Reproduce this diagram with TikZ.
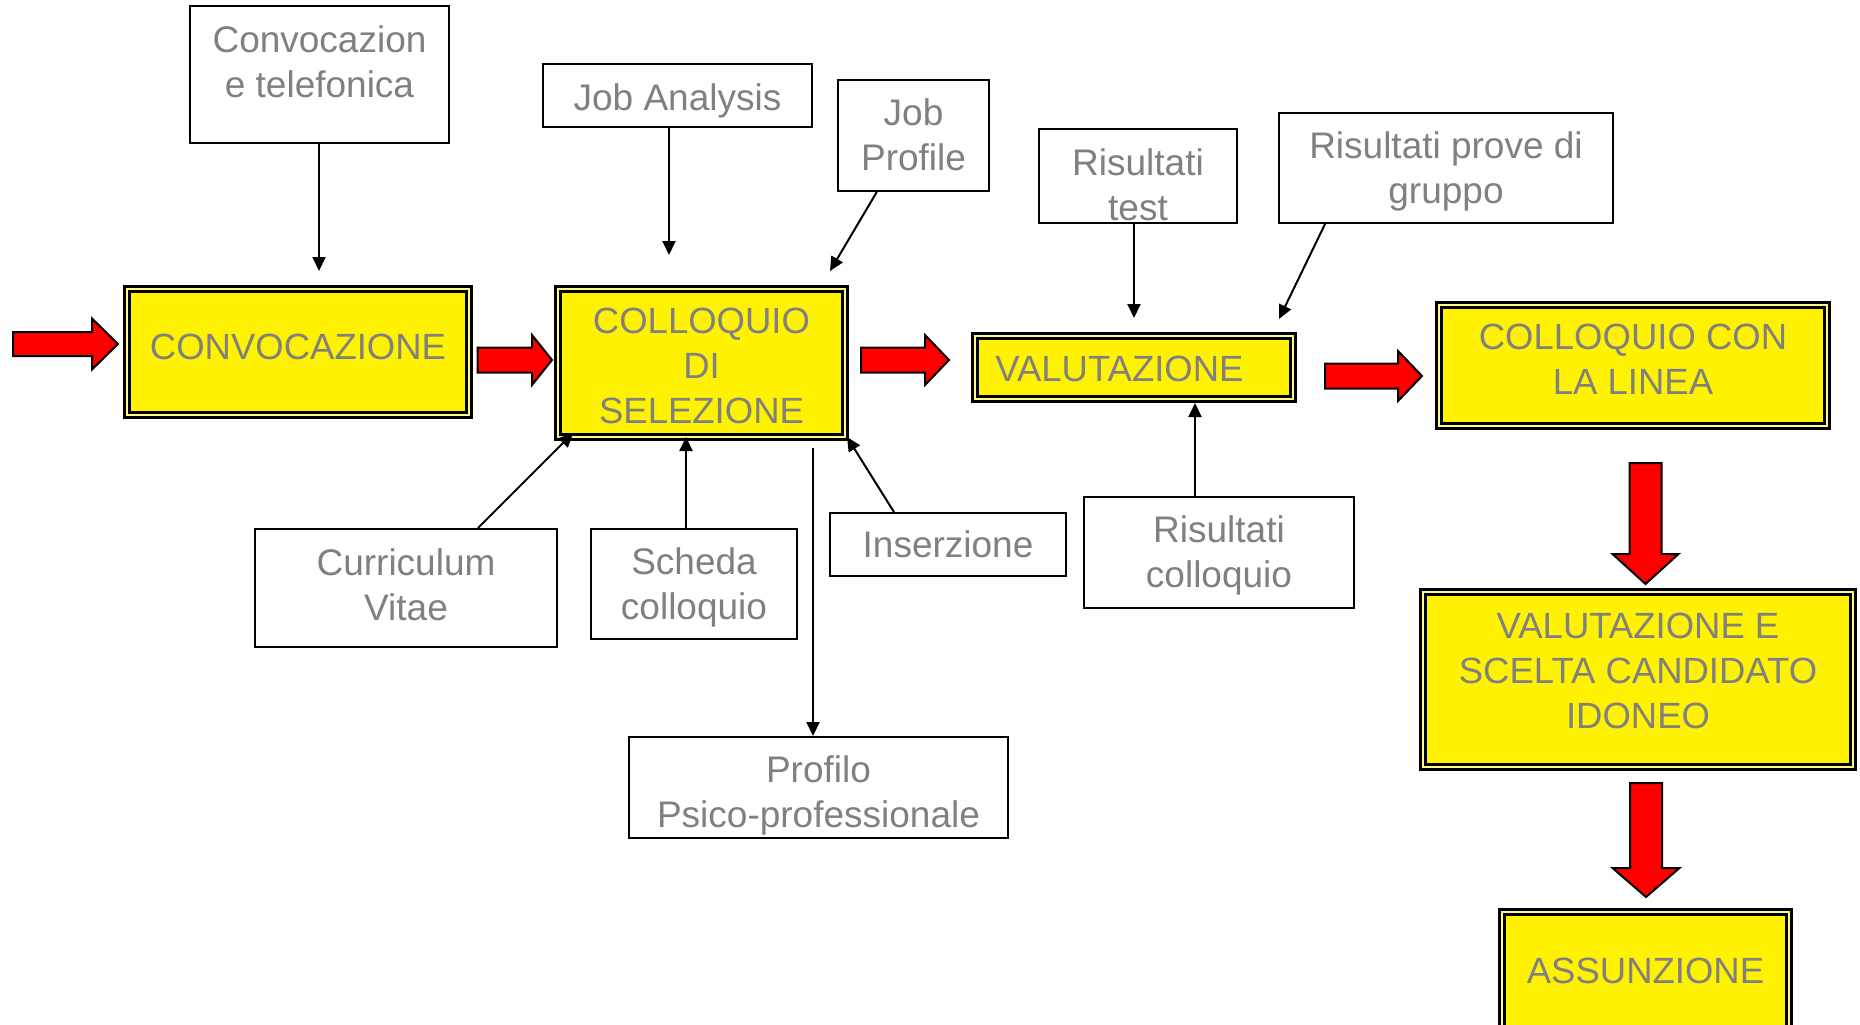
\documentclass[tikz,border=0pt]{standalone}
\usepackage{fontspec}
\setmainfont{Liberation Sans}
\usetikzlibrary{arrows.meta,calc}
\definecolor{txtgray}{RGB}{128,128,128}
% fixed line box so every text line sits the same way
\newcommand\linestrut{\rule[-9.7pt]{0pt}{45pt}}
\tikzset{
  lbl/.style={font=\fontsize{37}{45}\selectfont, text=txtgray, align=center,
    inner sep=0pt, execute at end node=\linestrut},
  ylbl/.style={lbl, font=\fontsize{36.5}{45}\selectfont},
  wbox/.style={draw, line width=2pt, fill=white, inner sep=0pt},
  ybox/.style={draw, fill=yellow, line width=3pt, double=white!55!yellow,
    double distance=2.4pt, inner sep=0pt},
  conn/.style={line width=2pt, -{Triangle[length=14pt,width=13pt]}},
  pics/redarrow/.style n args={4}{code={
    \draw[line width=2pt, fill=red, line join=miter]
      (0,-#3) -- ({#1-#2},-#3) -- ({#1-#2},-#4) -- (#1,0) --
      ({#1-#2},#4) -- ({#1-#2},#3) -- (0,#3) -- cycle;}}
}
\begin{document}
\begin{tikzpicture}[x=1pt,y=-1pt]
\useasboundingbox (0,0) rectangle (1860,1025);

% main process boxes
\node[ybox, minimum width=341.6pt, minimum height=125.6pt] (conv) at (298,352) {};
\node[ylbl, yshift=5.8pt] (conv-t) at (conv) {\linestrut CONVOCAZIONE};
\node[ybox, minimum width=286.6pt, minimum height=147.6pt] (coll) at (701.5,363) {};
\node[ylbl, yshift=-2.5pt] (coll-t) at (coll) {\linestrut COLLOQUIO\\DI\\SELEZIONE};
\node[ybox, minimum width=317.6pt, minimum height=62.6pt] (valut) at (1134,367.5) {};
\node[ylbl, xshift=-14.5pt, yshift=-1pt] (valut-t) at (valut) {\linestrut VALUTAZIONE};
\node[ybox, minimum width=387.6pt, minimum height=120.6pt] (linea) at (1633,365.5) {};
\node[ylbl, yshift=6pt] (linea-t) at (linea) {\linestrut COLLOQUIO CON\\LA LINEA};
\node[ybox, minimum width=429.6pt, minimum height=174.6pt] (scelta) at (1638,679.5) {};
\node[ylbl, yshift=9pt] (scelta-t) at (scelta) {\linestrut VALUTAZIONE E\\SCELTA CANDIDATO\\IDONEO};
\node[ybox, ylbl, minimum width=286.6pt, minimum height=117.6pt] (assunz) at (1645.5,971) {\linestrut ASSUNZIONE};

% input / output boxes
\node[wbox, minimum width=259pt, minimum height=137pt] (convtel) at (319.5,74.5) {};
\node[lbl, yshift=12pt] (convtel-t) at (convtel) {\linestrut Convocazion\\e telefonica};
\node[wbox, minimum width=269pt, minimum height=63pt] (jobA) at (677.5,95.5) {};
\node[lbl, yshift=-2pt] (jobA-t) at (jobA) {\linestrut Job Analysis};
\node[wbox, lbl, minimum width=151pt, minimum height=111pt] (jobP) at (913.5,135.5) {\linestrut Job\\Profile};
\node[wbox, minimum width=198pt, minimum height=94pt] (rtest) at (1138,176) {};
\node[lbl, yshift=-9pt] (rtest-t) at (rtest) {\linestrut Risultati\\test};
\node[wbox, lbl, minimum width=334pt, minimum height=110pt] (rprove) at (1446,168) {\linestrut Risultati prove di\\gruppo};
\node[wbox, minimum width=302pt, minimum height=118pt] (cv) at (406,588) {};
\node[lbl, yshift=3.3pt] (cv-t) at (cv) {\linestrut Curriculum\\Vitae};
\node[wbox, lbl, minimum width=206pt, minimum height=110pt] (scheda) at (694,584) {\linestrut Scheda\\colloquio};
\node[wbox, lbl, minimum width=236pt, minimum height=63pt] (inserz) at (948,544.5) {\linestrut Inserzione};
\node[wbox, lbl, minimum width=270pt, minimum height=111pt] (rcoll) at (1219,552.5) {\linestrut Risultati\\colloquio};
\node[wbox, minimum width=379pt, minimum height=101pt] (profilo) at (818.5,787.5) {};
\node[lbl, yshift=-4.2pt] (profilo-t) at (profilo) {\linestrut Profilo\\Psico-professionale};

% free ends of the thin connectors
\coordinate (a1) at (319,271);
\coordinate (a2) at (669,255);
\coordinate (a3) at (830,271);
\coordinate (a4) at (1134,318);
\coordinate (a5) at (1279,319);
\coordinate (a6) at (1195,403);
\coordinate (a7) at (573,433);
\coordinate (a8) at (686,437);
\coordinate (a9) at (847,437);
\coordinate (a10) at (813,448);

\draw[conn] (convtel.south -| a1) -- (a1);
\draw[conn] (jobA.south -| a2) -- (a2);
\draw[conn] ($(jobP.south west)!0.26!(jobP.south east)$) -- (a3);
\draw[conn] (rtest.south -| a4) -- (a4);
\draw[conn] ($(rprove.south west)!0.14!(rprove.south east)$) -- (a5);
\draw[conn] (rcoll.north -| a6) -- (a6);
\draw[conn] ($(cv.north west)!0.737!(cv.north east)$) -- (a7);
\draw[conn] (scheda.north -| a8) -- (a8);
\draw[conn] ($(inserz.north west)!0.273!(inserz.north east)$) -- (a9);
\draw[conn] (a10) -- (profilo.north -| a10);

% block arrows of the main flow
\coordinate (r1) at (13,344);
\coordinate (r2) at (477.5,360);
\coordinate (r3) at (861,360);
\coordinate (r4) at (1325,376);
\coordinate (r5) at (1645.5,463);
\coordinate (r6) at (1646,783);
\pic at (r1) {redarrow={105}{26}{12}{25.5}};
\pic at (r2) {redarrow={74.5}{20}{12.5}{25}};
\pic at (r3) {redarrow={88}{24}{12.5}{25}};
\pic at (r4) {redarrow={97}{24}{12.5}{25}};
\pic[rotate=-90] at (r5) {redarrow={121}{30}{16}{33}};
\pic[rotate=-90] at (r6) {redarrow={114}{29}{16}{33.5}};
\end{tikzpicture}
\end{document}
